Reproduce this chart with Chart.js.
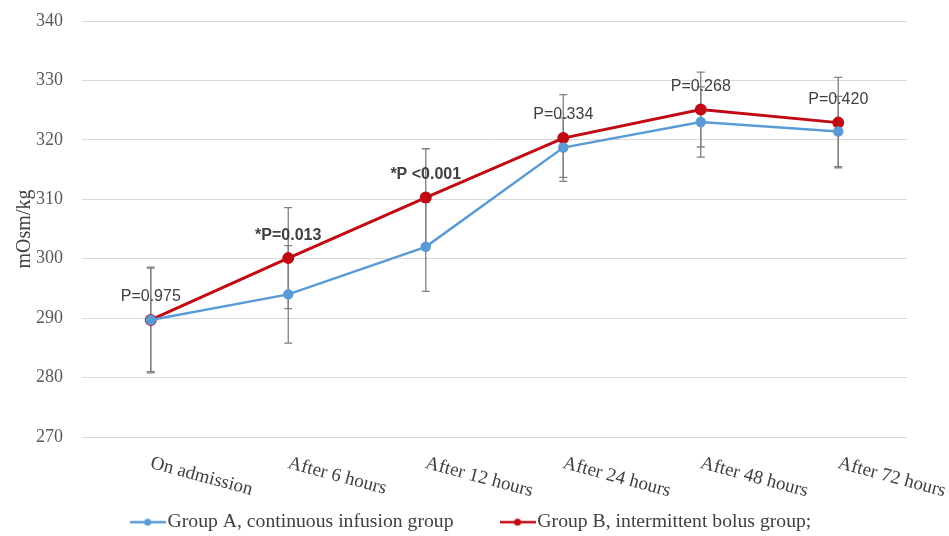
<!DOCTYPE html>
<html>
<head>
<meta charset="utf-8">
<script src="https://cdn.jsdelivr.net/npm/chart.js@4"></script>
<style>
  html, body { margin: 0; background: #fff; }
  #wrap { width: 949px; height: 536px; }
</style>
</head>
<body>
<div id="wrap"><canvas id="chart"></canvas></div>
<script>
// data
const times = ["On admission", "After 6 hours", "After 12 hours", "After 24 hours", "After 48 hours", "After 72 hours"];
const groupA = [289.7, 294.0, 302.0, 318.7, 323.0, 321.4];
const groupB = [289.7, 300.1, 310.3, 320.3, 325.1, 322.9];
const sdA = [8.7, 8.2, 7.5, 5.0, 5.9, 5.9];
const sdB = [8.9, 8.5, 8.2, 7.3, 6.3, 7.6];
const pValues = ["P=0.975", "*P=0.013", "*P <0.001", "P=0.334", "P=0.268", "P=0.420"];
const pSignificant = [false, true, true, false, false, false];

const blue = "#5B9BD5";
const red = "#C00A14";
const serif = "'Liberation Serif', 'Times New Roman', serif";
const CHART_BOTTOM = 437;
const PAD_BOTTOM = -6;

function legendMarker(color) {
  const c = document.createElement("canvas");
  c.width = 36;
  c.height = 10;
  const g = c.getContext("2d");
  g.strokeStyle = color;
  g.lineWidth = 2.5;
  g.beginPath();
  g.moveTo(0, 5);
  g.lineTo(36, 5);
  g.stroke();
  g.fillStyle = color;
  g.beginPath();
  g.arc(18, 5, 3.5, 0, Math.PI * 2);
  g.fill();
  return c;
}
const markers = [legendMarker(blue), legendMarker(red)];

// error bars, under the lines
const errorBars = {
  id: "errorBars",
  beforeDatasetsDraw(chart) {
    const ctx = chart.ctx;
    const x = chart.scales.x, y = chart.scales.y;
    ctx.save();
    ctx.strokeStyle = "#808080";
    ctx.lineWidth = 1.3;
    [[groupA, sdA], [groupB, sdB]].forEach(([vals, sds]) => {
      vals.forEach((v, i) => {
        const px = x.getPixelForValue(i);
        const top = y.getPixelForValue(v + sds[i]);
        const bot = y.getPixelForValue(v - sds[i]);
        ctx.beginPath();
        ctx.moveTo(px, top); ctx.lineTo(px, bot);
        ctx.moveTo(px - 4, top); ctx.lineTo(px + 4, top);
        ctx.moveTo(px - 4, bot); ctx.lineTo(px + 4, bot);
        ctx.stroke();
      });
    });
    ctx.restore();
  }
};

// p value labels and slanted category labels
const annotations = {
  id: "annotations",
  afterDatasetsDraw(chart) {
    const ctx = chart.ctx;
    const x = chart.scales.x, y = chart.scales.y;
    ctx.save();
    ctx.fillStyle = "#404040";
    ctx.textAlign = "center";
    ctx.textBaseline = "middle";
    pValues.forEach((t, i) => {
      ctx.font = (pSignificant[i] ? "bold " : "") + "16px 'Liberation Sans', Arial, sans-serif";
      ctx.fillText(t, x.getPixelForValue(i), y.getPixelForValue(groupB[i]) - 23);
    });
    ctx.font = "19px " + serif;
    ctx.fillStyle = "#404040";
    ctx.textAlign = "left";
    times.forEach((t, i) => {
      ctx.save();
      ctx.translate(x.getPixelForValue(i), 463);
      ctx.rotate(Math.PI / 12);
      ctx.fillText(t, 0, 0);
      ctx.restore();
    });
    ctx.restore();
  }
};

new Chart(document.getElementById("chart"), {
  type: "line",
  data: {
    labels: times,
    datasets: [
      {
        label: "Group A, continuous infusion group",
        data: groupA,
        borderColor: blue,
        backgroundColor: blue,
        borderWidth: 2.5,
        pointRadius: 4,
        pointHoverRadius: 4,
        tension: 0,
      },
      {
        label: "Group B, intermittent bolus group;",
        data: groupB,
        borderColor: red,
        backgroundColor: red,
        borderWidth: 3,
        pointRadius: 4.5,
        pointHoverRadius: 4.5,
        tension: 0,
      },
    ],
  },
  options: {
    responsive: true,
    maintainAspectRatio: false,
    animation: false,
    layout: { padding: { top: 21, right: 0, bottom: PAD_BOTTOM, left: 0 } },
    plugins: {
      tooltip: { enabled: false },
      legend: {
        position: "bottom",
        labels: {
          usePointStyle: true,
          pointStyleWidth: 20,
          padding: 54,
          color: "#404040",
          font: { family: serif, size: 19.7 },
          generateLabels(chart) {
            const items = Chart.defaults.plugins.legend.labels.generateLabels(chart);
            items.forEach((it, i) => { it.pointStyle = markers[i]; });
            return items;
          },
        },
      },
    },
    scales: {
      x: {
        offset: true,
        grid: { display: false },
        border: { display: false },
        ticks: { display: false },
        afterFit(scale) {
          scale.height = scale.chart.height - CHART_BOTTOM - scale.chart.legend.height - PAD_BOTTOM;
        },
      },
      y: {
        min: 270,
        max: 340,
        grid: { color: "#D9D9D9", drawTicks: true, tickLength: 17, tickColor: "rgba(0,0,0,0)" },
        border: { display: false },
        ticks: {
          stepSize: 10,
          padding: 2,
          color: "#595959",
          font: { family: serif, size: 18 },
        },
        title: {
          display: true,
          text: "mOsm/kg",
          color: "#404040",
          font: { family: serif, size: 20 },
          padding: { top: 13, bottom: 0 },
        },
        afterFit(scale) { scale.width = 82; },
      },
      // empty right-hand axis that only reserves the blank margin
      yRight: {
        position: "right",
        min: 270,
        max: 340,
        grid: { display: false },
        border: { display: false },
        ticks: { display: false },
        afterFit(scale) { scale.width = 42; },
      },
    },
  },
  plugins: [errorBars, annotations],
});
</script>
</body>
</html>
